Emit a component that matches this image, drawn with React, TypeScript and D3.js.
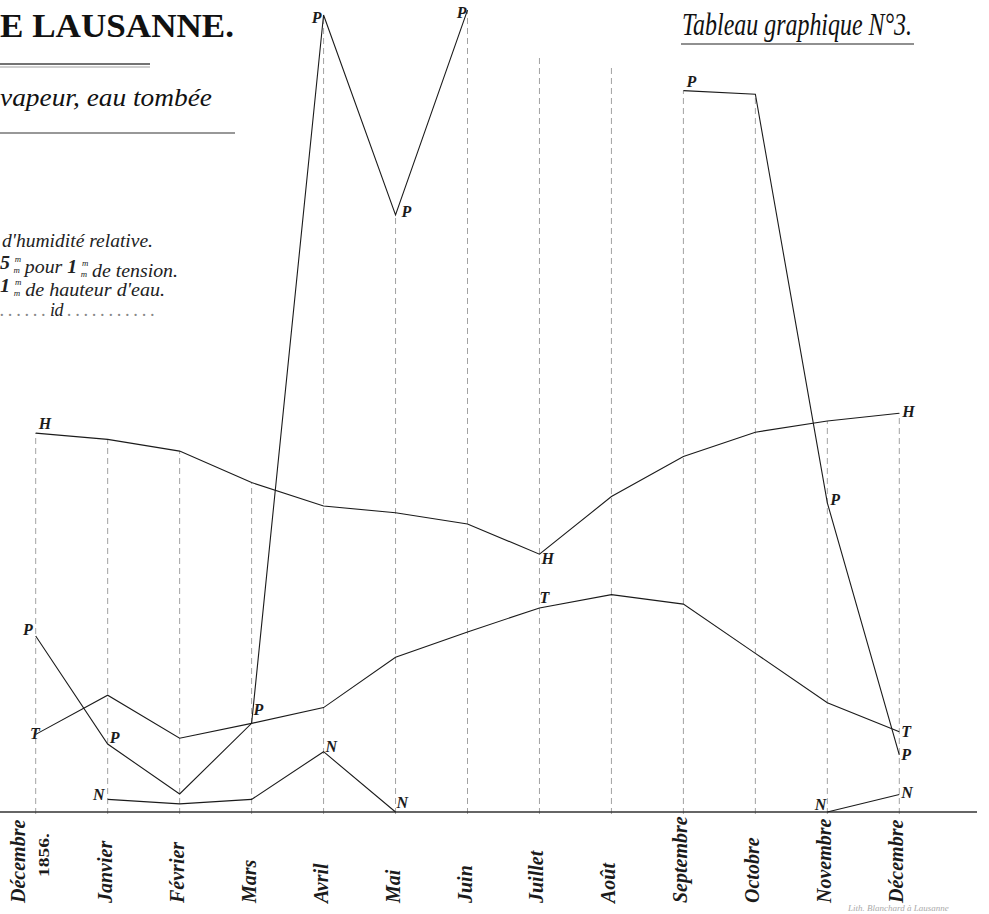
import React, { useEffect, useRef } from "react";
import * as d3 from "d3";

// months, Décembre 1856 -> Décembre 1857
const months = ["Décembre", "Janvier", "Février", "Mars", "Avril", "Mai", "Juin", "Juillet", "Août", "Septembre", "Octobre", "Novembre", "Décembre"];
// H : humidité relative (degrés)
const humidity = [84.2, 82.8, 80.2, 73.2, 68.0, 66.5, 64.0, 57.3, 70.1, 79.0, 84.4, 86.9, 88.6];
// T : tension de la vapeur (mm) -- drawn at 5 mm per mm
const tension = [3.45, 5.19, 3.28, 3.94, 4.64, 6.88, 8.0, 9.07, 9.66, 9.24, 7.05, 4.86, 3.57];
// P : eau tombée (mm), Juillet / Août off the sheet
const rain = [39.1, 15.1, 4.0, 19.7, 177.1, 132.7, 178.2, null, null, 160.3, 159.5, 68.7, 12.7];
// N : neige (mm)
const snow = [null, 2.8, 1.8, 2.8, 13.4, 0, null, null, null, null, null, 0, 3.9];
// how far the guide lines were ruled where P ran off the sheet (mm)
const guideTop = [null, null, null, null, null, null, null, 168.2, 166.0, null, null, null, null];

export default function App() {
  const ref = useRef<HTMLDivElement>(null);

  useEffect(() => {
    const W = 989;
    const H = 914;
    const axisY = 812;
    d3.select(ref.current).selectAll("*").remove();

    const svg = d3
      .select(ref.current)
      .append("svg")
      .attr("width", W)
      .attr("height", H)
      .style("position", "absolute")
      .style("left", "0px")
      .style("top", "0px")
      .style("background", "#fff");

    const idx = d3.range(months.length);
    const x = d3.scalePoint<number>().domain(idx).range([35.7, 899.3]);
    const y = d3.scaleLinear().domain([0, 180]).range([axisY, 2]);
    const yT = d3.scaleLinear().domain([0, 36]).range([axisY, 2]);

    const ink = "#1b1b1b";
    const serif = "Times New Roman, Liberation Serif, DejaVu Serif, Times, serif";

    // vertical guides
    idx.forEach((i) => {
      const tops = [y(humidity[i]), yT(tension[i])];
      if (rain[i] != null) tops.push(y(rain[i] as number));
      if (snow[i] != null) tops.push(y(snow[i] as number));
      if (guideTop[i] != null) tops.push(y(guideTop[i] as number));
      svg
        .append("line")
        .attr("x1", x(i)!)
        .attr("x2", x(i)!)
        .attr("y1", axisY + 2)
        .attr("y2", d3.min(tops)!)
        .attr("stroke", "#8a8a8a")
        .attr("stroke-width", 0.8)
        .attr("stroke-dasharray", "6,4");
    });

    // base line
    svg
      .append("line")
      .attr("x1", 0)
      .attr("x2", 977)
      .attr("y1", axisY)
      .attr("y2", axisY)
      .attr("stroke", "#333")
      .attr("stroke-width", 1.6);

    const drawSeries = (vals: (number | null)[], sc: d3.ScaleLinear<number, number>) => {
      const line = d3
        .line<number | null>()
        .defined((d) => d != null)
        .x((d, i) => x(i)!)
        .y((d) => sc(d as number));
      svg
        .append("path")
        .datum(vals)
        .attr("d", line)
        .attr("fill", "none")
        .attr("stroke", ink)
        .attr("stroke-width", 1.1);
    };
    drawSeries(humidity, y);
    drawSeries(tension, yT);
    drawSeries(rain, y);
    drawSeries(snow, y);

    // letters on the curves
    const marks: [string, (number | null)[], number, number, number, string][] = [
      ["H", humidity, 0, 3, -4, "start"],
      ["H", humidity, 7, 2, 10, "start"],
      ["H", humidity, 12, 3, 4, "start"],
      ["T", tension, 0, 4, 5, "end"],
      ["T", tension, 7, 0, -5, "start"],
      ["T", tension, 12, 2, 5, "start"],
      ["P", rain, 0, -3, -1, "end"],
      ["P", rain, 1, 2, -1, "start"],
      ["P", rain, 3, 2, -8, "start"],
      ["P", rain, 4, -2, 8, "end"],
      ["P", rain, 5, 6, 2, "start"],
      ["P", rain, 6, -1, 8, "end"],
      ["P", rain, 9, 3, -4, "start"],
      ["P", rain, 11, 3, 2, "start"],
      ["P", rain, 12, 2, 5, "start"],
      ["N", snow, 1, -3, 1, "end"],
      ["N", snow, 4, 2, 0, "start"],
      ["N", snow, 5, 1, -4, "start"],
      ["N", snow, 11, -1, -2, "end"],
      ["N", snow, 12, 2, 4, "start"],
    ];
    marks.forEach(([letter, vals, i, dx, dy, anchor]) => {
      const sc = vals === tension ? yT : y;
      svg
        .append("text")
        .attr("x", x(i)! + dx)
        .attr("y", sc(vals[i] as number) + dy)
        .attr("text-anchor", anchor)
        .style("font-family", serif)
        .attr("font-style", "italic")
        .attr("font-weight", "bold")
        .attr("font-size", 16)
        .attr("fill", ink)
        .text(letter);
    });

    // month names, written upward
    idx.forEach((i) => {
      const g = svg.append("g").attr("transform", `translate(${x(i)! + (i === 0 ? -11 : 4)},903) rotate(-90)`);
      g.append("text")
        .style("font-family", serif)
        .attr("font-style", "italic")
        .attr("font-weight", "bold")
        .attr("font-size", 20)
        .attr("fill", ink)
        .text(months[i]);
      if (i === 0) {
        g.append("text")
          .attr("x", 26)
          .attr("y", 24)
          .attr("text-anchor", "start")
          .style("font-family", serif)
          .attr("font-weight", "bold")
          .attr("font-size", 15)
          .attr("textLength", 44)
          .attr("lengthAdjust", "spacingAndGlyphs")
          .attr("fill", ink)
          .text("1856.");
      }
    });

    // titles
    svg
      .append("text")
      .attr("x", 0)
      .attr("y", 37)
      .style("font-family", serif)
      .attr("font-weight", "bold")
      .attr("font-size", 34)
      .attr("textLength", 234)
      .attr("lengthAdjust", "spacingAndGlyphs")
      .attr("fill", "#111")
      .text("E LAUSANNE.");

    svg.append("line").attr("x1", 0).attr("x2", 150).attr("y1", 64).attr("y2", 64).attr("stroke", "#444").attr("stroke-width", 1.4);
    svg.append("line").attr("x1", 0).attr("x2", 150).attr("y1", 67).attr("y2", 67).attr("stroke", "#777").attr("stroke-width", 0.7);

    svg
      .append("text")
      .attr("x", 0)
      .attr("y", 106)
      .style("font-family", serif)
      .attr("font-style", "italic")
      .attr("font-size", 26)
      .attr("textLength", 212)
      .attr("lengthAdjust", "spacingAndGlyphs")
      .attr("fill", "#111")
      .text("vapeur, eau tombée");

    svg.append("line").attr("x1", 0).attr("x2", 235).attr("y1", 133).attr("y2", 133).attr("stroke", "#333").attr("stroke-width", 1.2);

    svg
      .append("text")
      .attr("x", 682)
      .attr("y", 35)
      .style("font-family", serif)
      .attr("font-style", "italic")
      .attr("font-size", 32)
      .attr("textLength", 230)
      .attr("lengthAdjust", "spacingAndGlyphs")
      .attr("fill", "#111")
      .text("Tableau graphique N°3.");
    svg.append("line").attr("x1", 681).attr("x2", 914).attr("y1", 44).attr("y2", 44).attr("stroke", "#222").attr("stroke-width", 1.2);

    // legend (cut at the left edge)
    const legend = svg
      .append("g")
      .style("font-family", serif)
      .attr("font-style", "italic")
      .attr("font-size", 18)
      .attr("fill", "#222");

    legend
      .append("text")
      .attr("x", 2)
      .attr("y", 247)
      .attr("textLength", 151)
      .attr("lengthAdjust", "spacingAndGlyphs")
      .text("d'humidité relative.");

    // m over m, stacked
    const frac = (t: d3.Selection<SVGTextElement, unknown, null, undefined>) => {
      t.append("tspan").attr("font-size", 8).attr("dy", -7).text("m");
      t.append("tspan").attr("font-size", 8).attr("dx", -7).attr("dy", 11).text("m");
      t.append("tspan").attr("dy", -4).text("");
    };
    const l2 = legend.append("text").attr("x", 0).attr("y", 269).attr("textLength", 178).attr("lengthAdjust", "spacingAndGlyphs");
    l2.append("tspan").attr("font-weight", "bold").text("5 ");
    frac(l2);
    l2.append("tspan").text(" pour ");
    l2.append("tspan").attr("font-weight", "bold").text("1 ");
    frac(l2);
    l2.append("tspan").text(" de tension.");

    const l3 = legend.append("text").attr("x", 0).attr("y", 292).attr("textLength", 165).attr("lengthAdjust", "spacingAndGlyphs");
    l3.append("tspan").attr("font-weight", "bold").text("1 ");
    frac(l3);
    l3.append("tspan").text(" de hauteur d'eau.");

    legend
      .append("text")
      .attr("x", 0)
      .attr("y", 316)
      .attr("textLength", 155)
      .attr("lengthAdjust", "spacing")
      .attr("fill", "#888")
      .text(". . . . . . ")
      .append("tspan")
      .attr("fill", "#222")
      .text("id")
      .append("tspan")
      .attr("fill", "#888")
      .text(" . . . . . . . . . . .");

    svg
      .append("text")
      .attr("x", 848)
      .attr("y", 911)
      .style("font-family", serif)
      .attr("font-style", "italic")
      .attr("font-size", 9)
      .attr("fill", "#aaa")
      .text("Lith. Blanchard à Lausanne");
  }, []);

  return <div ref={ref}></div>;
}
